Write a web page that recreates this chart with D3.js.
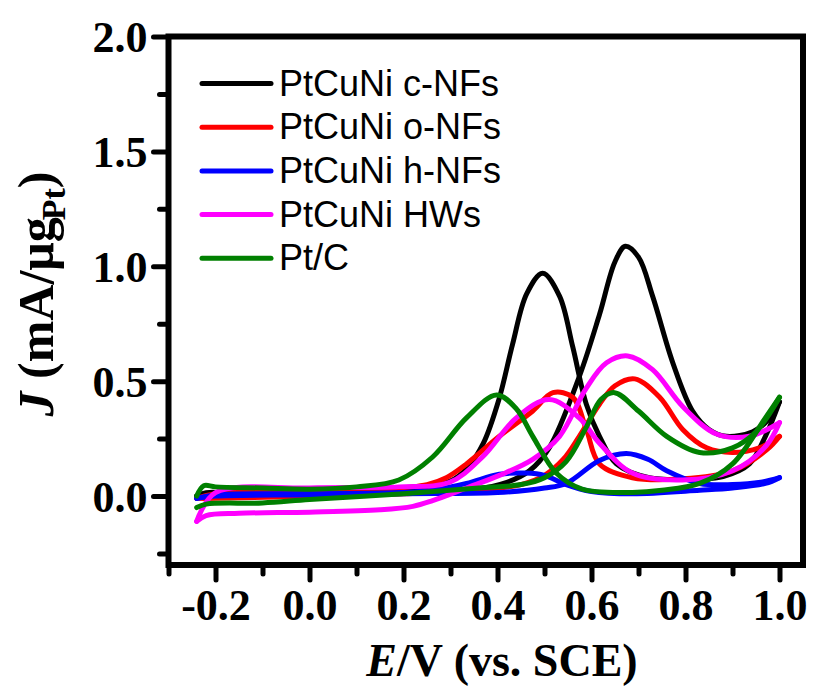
<!DOCTYPE html>
<html>
<head>
<meta charset="utf-8">
<script src="https://cdn.jsdelivr.net/npm/d3@7"></script>
<style>
  html, body { margin: 0; padding: 0; background: #fff; }
  svg { display: block; }
</style>
</head>
<body>
<div id="chart"></div>
<script>
// ---------------- DATA ----------------
const seriesNames = ["PtCuNi c-NFs", "PtCuNi o-NFs", "PtCuNi h-NFs", "PtCuNi HWs", "Pt/C"];
const seriesColors = ["#000000", "#ff0000", "#0000ff", "#ff00ff", "#008000"];

const xMajorTicks = [-0.2, 0.0, 0.2, 0.4, 0.6, 0.8, 1.0];
const xMinorTicks = [-0.3, -0.1, 0.1, 0.3, 0.5, 0.7, 0.9];
const yMajorTicks = [0.0, 0.5, 1.0, 1.5, 2.0];
const yMinorTicks = [-0.25, 0.25, 0.75, 1.25, 1.75];

// [E (V vs SCE), J (mA/ug_Pt)] — forward scan then backward scan
const cNFsForward = [[-0.24,0.0],[-0.22,0.015],[-0.15,0.012],[0.0,0.015],[0.2,0.02],[0.35,0.03],[0.42,0.06],[0.468,0.11],[0.51,0.21],[0.574,0.52],[0.617,0.79],[0.65,1.02],[0.672,1.087],[0.70,1.04],[0.73,0.87],[0.773,0.58],[0.815,0.37],[0.85,0.29],[0.887,0.26],[0.943,0.28],[0.975,0.33],[1.0,0.41]];
const cNFsBackward = [[1.0,0.41],[0.97,0.26],[0.936,0.14],[0.88,0.085],[0.83,0.075],[0.723,0.08],[0.653,0.14],[0.617,0.26],[0.589,0.40],[0.56,0.65],[0.532,0.87],[0.496,0.97],[0.462,0.88],[0.432,0.66],[0.403,0.42],[0.37,0.23],[0.335,0.12],[0.3,0.065],[0.25,0.042],[0.2,0.032],[0.0,0.02],[-0.2,0.015],[-0.24,0.0]];

const oNFsForward = [[-0.24,-0.01],[-0.2,-0.01],[0.0,0.0],[0.2,0.01],[0.35,0.025],[0.45,0.05],[0.5,0.09],[0.54,0.16],[0.574,0.26],[0.617,0.40],[0.65,0.48],[0.692,0.51],[0.745,0.43],[0.794,0.29],[0.845,0.21],[0.9,0.19],[0.957,0.21],[1.0,0.26]];
const oNFsBackward = [[1.0,0.26],[0.972,0.2],[0.9,0.11],[0.794,0.075],[0.687,0.08],[0.617,0.14],[0.589,0.29],[0.56,0.43],[0.518,0.45],[0.475,0.37],[0.404,0.26],[0.334,0.14],[0.291,0.08],[0.25,0.05],[0.15,0.03],[0.0,0.02],[-0.2,0.01],[-0.24,-0.01]];

const hNFsForward = [[-0.24,-0.01],[-0.2,0.0],[0.0,0.005],[0.2,0.01],[0.4,0.015],[0.5,0.035],[0.546,0.055],[0.617,0.155],[0.674,0.185],[0.72,0.16],[0.76,0.11],[0.83,0.055],[0.9,0.05],[0.96,0.06],[1.0,0.08]];
const hNFsBackward = [[1.0,0.08],[0.97,0.055],[0.9,0.035],[0.83,0.025],[0.687,0.01],[0.6,0.02],[0.546,0.05],[0.5,0.09],[0.46,0.1],[0.404,0.095],[0.334,0.055],[0.262,0.025],[0.19,0.015],[0.0,0.01],[-0.2,0.005],[-0.24,-0.01]];

const HWsForward = [[-0.24,-0.11],[-0.22,-0.085],[-0.15,-0.075],[0.0,-0.07],[0.15,-0.06],[0.22,-0.045],[0.262,-0.02],[0.334,0.035],[0.404,0.09],[0.475,0.16],[0.532,0.26],[0.589,0.47],[0.632,0.58],[0.677,0.61],[0.73,0.55],[0.794,0.39],[0.866,0.27],[0.936,0.26],[1.0,0.32]];
const HWsBackward = [[1.0,0.32],[0.972,0.22],[0.9,0.11],[0.794,0.07],[0.687,0.1],[0.617,0.23],[0.574,0.34],[0.51,0.42],[0.44,0.34],[0.368,0.17],[0.298,0.06],[0.19,0.04],[0.0,0.035],[-0.2,0.015],[-0.24,-0.11]];

const PtCForward = [[-0.24,-0.05],[-0.22,-0.035],[-0.1,-0.03],[0.0,-0.015],[0.2,0.01],[0.36,0.035],[0.45,0.05],[0.5,0.08],[0.546,0.15],[0.589,0.30],[0.62,0.42],[0.649,0.45],[0.7,0.37],[0.76,0.26],[0.83,0.19],[0.9,0.21],[0.95,0.28],[1.0,0.43]];
const PtCBackward = [[1.0,0.43],[0.97,0.34],[0.9,0.14],[0.83,0.055],[0.75,0.025],[0.687,0.016],[0.58,0.03],[0.525,0.1],[0.475,0.26],[0.44,0.38],[0.398,0.44],[0.334,0.34],[0.262,0.17],[0.19,0.07],[0.1,0.04],[0.0,0.03],[-0.1,0.035],[-0.2,0.04],[-0.225,0.045],[-0.24,0.0]];

const seriesData = [
  [cNFsForward, cNFsBackward],
  [oNFsForward, oNFsBackward],
  [hNFsForward, hNFsBackward],
  [HWsForward, HWsBackward],
  [PtCForward, PtCBackward]
];

// ---------------- CHART ----------------
const W = 815, H = 688;
const svg = d3.select("#chart").append("svg").attr("width", W).attr("height", H);

const x = d3.scaleLinear().domain([-0.3, 1.05]).range([168.5, 803]);
const y = d3.scaleLinear().domain([-0.3, 2.0]).range([565, 36.5]);

const serif = "'Liberation Serif', 'Times New Roman', serif";
const sans = "'Liberation Sans', Arial, sans-serif";

// curves
const line = d3.line().x(d => x(d[0])).y(d => y(d[1])).curve(d3.curveCatmullRom.alpha(0.5));
const gCurves = svg.append("g");
seriesData.forEach((branches, i) => {
  branches.forEach(b => {
    gCurves.append("path")
      .attr("d", line(b))
      .attr("fill", "none")
      .attr("stroke", seriesColors[i])
      .attr("stroke-width", 5)
      .attr("stroke-linejoin", "round")
      .attr("stroke-linecap", "round");
  });
});

// axes
function styleAxis(g) {
  g.select(".domain").remove();
  g.selectAll(".tick line").attr("stroke", "#000").attr("stroke-width", 5).attr("stroke-linecap", "round");
}
const xAxisMajor = svg.append("g").attr("transform", `translate(0,${y(-0.3)})`)
  .call(d3.axisBottom(x).tickValues(xMajorTicks).tickSize(15).tickFormat(d => d.toFixed(1)));
styleAxis(xAxisMajor);
xAxisMajor.selectAll("text").attr("y", 55).attr("dy", null)
  .attr("font-family", serif).attr("font-weight", "bold").attr("font-size", 44).attr("fill", "#000");

const xAxisMinor = svg.append("g").attr("transform", `translate(0,${y(-0.3)})`)
  .call(d3.axisBottom(x).tickValues(xMinorTicks).tickSize(9).tickFormat(""));
styleAxis(xAxisMinor);

const yAxisMajor = svg.append("g").attr("transform", `translate(${x(-0.3)},0)`)
  .call(d3.axisLeft(y).tickValues(yMajorTicks).tickSize(15).tickFormat(d => d.toFixed(1)));
styleAxis(yAxisMajor);
yAxisMajor.selectAll("text").attr("x", -21).attr("dy", null).attr("y", 15)
  .attr("font-family", serif).attr("font-weight", "bold").attr("font-size", 44).attr("fill", "#000");

const yAxisMinor = svg.append("g").attr("transform", `translate(${x(-0.3)},0)`)
  .call(d3.axisLeft(y).tickValues(yMinorTicks).tickSize(9).tickFormat(""));
styleAxis(yAxisMinor);

// frame
svg.append("rect")
  .attr("x", x(-0.3)).attr("y", y(2.0))
  .attr("width", x(1.05) - x(-0.3)).attr("height", y(-0.3) - y(2.0))
  .attr("fill", "none").attr("stroke", "#000").attr("stroke-width", 6);

// axis titles
const xt = svg.append("text").attr("x", 502).attr("y", 676).attr("text-anchor", "middle")
  .attr("font-family", serif).attr("font-weight", "bold").attr("font-size", 46).attr("fill", "#000");
xt.append("tspan").attr("font-style", "italic").text("E");
xt.append("tspan").text("/V (vs. SCE)");

const yt = svg.append("text").attr("transform", "translate(53,294) rotate(-90)").attr("text-anchor", "middle")
  .attr("font-family", serif).attr("font-weight", "bold").attr("font-size", 50).attr("fill", "#000");
yt.append("tspan").attr("font-style", "italic").text("J");
yt.append("tspan").text(" (mA/μg");
yt.append("tspan").attr("font-size", 34).attr("dy", 12).attr("dx", -3).text("Pt");
yt.append("tspan").attr("dy", -12).text(")");

// legend
const legend = svg.append("g");
seriesNames.forEach((name, i) => {
  const ly = 83.5 + i * 43.7;
  legend.append("line").attr("x1", 202).attr("x2", 271).attr("y1", ly).attr("y2", ly)
    .attr("stroke", seriesColors[i]).attr("stroke-width", 5).attr("stroke-linecap", "round");
  legend.append("text").attr("x", 279).attr("y", ly + 12)
    .attr("font-family", sans).attr("font-size", 36).attr("fill", "#000").text(name);
});
</script>
</body>
</html>
